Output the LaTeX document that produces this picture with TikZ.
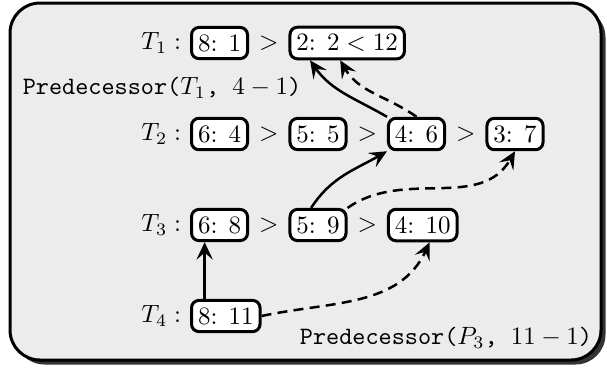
\documentclass[tikz,border=0pt]{standalone}
\usetikzlibrary{positioning,shadows,arrows.meta}
\begin{document}
\begin{tikzpicture}[x=0.4pt,y=-0.4pt,>={Stealth[length=7pt,width=6.5pt,inset=2.8pt]},
        entry/.style={draw,very thick,rounded corners=3pt,fill=white,inner xsep=2.6pt,inner ysep=2.8pt,anchor=west},
        gt/.style={inner sep=3.8pt},
        link/.style={->,line width=1pt},
        lookup/.style={link,dash pattern=on 4pt off 2.5pt}]
            \useasboundingbox (0,0) rectangle (607,369);

            % draw the frame
            \draw[very thick,rounded corners=12pt,fill=gray!15,
                drop shadow={shadow xshift=1.8pt,shadow yshift=-1.8pt,fill=black!80,opacity=1}]
                (10,3) rectangle (601,360);

            % T1
            \node[entry] (r1a) at (190,43) {8: 1};
            \node[left=0pt of r1a] (l1) {$T_1:$};
            \node[gt,right=0pt of r1a] (g11) {$>$};
            \node[entry,right=0pt of g11] (r1b) {2: $2<12$};

            % T2
            \node[entry] (r2a) at (190,134) {6: 4};
            \node[left=0pt of r2a] (l2) {$T_2:$};
            \node[gt,right=0pt of r2a] (g21) {$>$};
            \node[entry,right=0pt of g21] (r2b) {5: 5};
            \node[gt,right=0pt of r2b] (g22) {$>$};
            \node[entry,right=0pt of g22] (r2c) {4: 6};
            \node[gt,right=0pt of r2c] (g23) {$>$};
            \node[entry,right=0pt of g23] (r2d) {3: 7};

            % T3
            \node[entry] (r3a) at (190,225) {6: 8};
            \node[left=0pt of r3a] (l3) {$T_3:$};
            \node[gt,right=0pt of r3a] (g31) {$>$};
            \node[entry,right=0pt of g31] (r3b) {5: 9};
            \node[gt,right=0pt of r3b] (g32) {$>$};
            \node[entry,right=0pt of g32] (r3c) {4: 10};

            % T4
            \node[entry] (r4a) at (190,316) {8: 11};
            \node[left=0pt of r4a] (l4) {$T_4:$};

            % the lookups
            \draw[link] (r2c.north west) to[out=150,in=-55] (r1b.205);
            \draw[lookup] (r2c.north) to[out=145,in=-60] (r1b.248);
            \draw[link] (r3b.112) to[out=57,in=210] (r2c.south west);
            \draw[lookup] (r3b.north east) to[out=35,in=-120] (r2d.south);
            \draw[link] (r4a.north -| r3a.229) -- (r3a.229);
            \draw[lookup] (r4a.east) to[out=12,in=-115] (r3c.292);

            % text at the lookups
            \node (p1) at (162,88) {\texttt{Predecessor(}$T_1$\texttt{, }$4-1$\texttt{)}};
            \node (p3) at (446,338) {\texttt{Predecessor(}$P_3$\texttt{, }$11-1$\texttt{)}};
        \end{tikzpicture}
\end{document}
